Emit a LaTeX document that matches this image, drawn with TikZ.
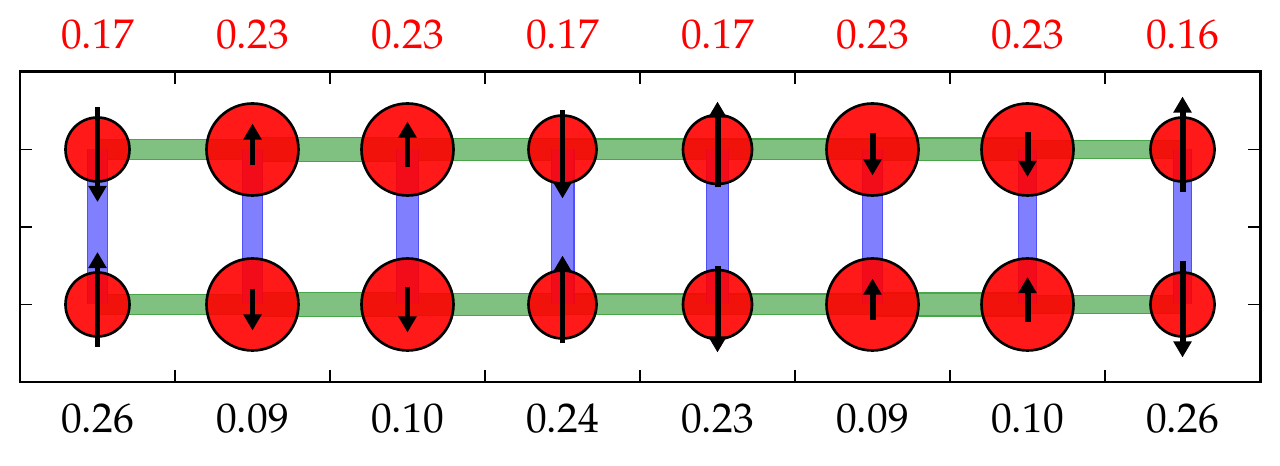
\documentclass[tikz,border=0pt]{standalone}
\usepackage[T1]{fontenc}
\usepackage{mathpazo}
\usetikzlibrary{arrows.meta}
\usetikzlibrary{positioning}

\definecolor{leggreen}{RGB}{128,192,128}
\definecolor{leggreenedge}{RGB}{72,166,72}
\definecolor{rungblue}{RGB}{128,128,255}
\definecolor{rungblueedge}{RGB}{80,80,246}

\tikzset{
  frame/.style={line width=0.85pt},
  tickmark/.style={line width=0.35pt},
  legbond/.style={draw=leggreenedge,double=leggreen,line width=0.35pt},
  rungbond/.style={draw=rungblueedge,double=rungblue,line width=0.35pt},
  site/.style={circle,draw=black,fill=red,fill opacity=0.9,line width=0.75pt,inner sep=0pt},
  spin/.style={line width=1.7pt,-{Triangle[length=4.6pt,width=5pt]}},
  density/.style={font=\fontsize{11.8}{14}\selectfont,text=red,anchor=base},
  moment/.style={font=\fontsize{11.8}{14}\selectfont,anchor=base},
}

\begin{document}
\begin{tikzpicture}[x=1.55cm,y=1.55cm]
\useasboundingbox (-0.129,-0.5355) rectangle (8.129,2.4645);

% lattice sites
\coordinate (t1) at (0.5,1.5); \coordinate (b1) at (0.5,0.5);
\coordinate (t2) at (1.5,1.5); \coordinate (b2) at (1.5,0.5);
\coordinate (t3) at (2.5,1.5); \coordinate (b3) at (2.5,0.5);
\coordinate (t4) at (3.5,1.5); \coordinate (b4) at (3.5,0.5);
\coordinate (t5) at (4.5,1.5); \coordinate (b5) at (4.5,0.5);
\coordinate (t6) at (5.5,1.5); \coordinate (b6) at (5.5,0.5);
\coordinate (t7) at (6.5,1.5); \coordinate (b7) at (6.5,0.5);
\coordinate (t8) at (7.5,1.5); \coordinate (b8) at (7.5,0.5);

% legs
\draw[legbond,double distance=5.28pt] (t1) -- (t2);
\draw[legbond,double distance=6.41pt] (t2) -- (t3);
\draw[legbond,double distance=5.84pt] (t3) -- (t4);
\draw[legbond,double distance=5.56pt] (t4) -- (t5);
\draw[legbond,double distance=5.56pt] (t5) -- (t6);
\draw[legbond,double distance=6.13pt] (t6) -- (t7);
\draw[legbond,double distance=4.71pt] (t7) -- (t8);
\draw[legbond,double distance=5.28pt] (b1) -- (b2);
\draw[legbond,double distance=6.41pt] (b2) -- (b3);
\draw[legbond,double distance=5.84pt] (b3) -- (b4);
\draw[legbond,double distance=5.56pt] (b4) -- (b5);
\draw[legbond,double distance=5.56pt] (b5) -- (b6);
\draw[legbond,double distance=6.13pt] (b6) -- (b7);
\draw[legbond,double distance=4.71pt] (b7) -- (b8);

% rungs
\draw[rungbond,double distance=5.28pt] (t1) -- (b1);
\draw[rungbond,double distance=5.28pt] (t2) -- (b2);
\draw[rungbond,double distance=5.84pt] (t3) -- (b3);
\draw[rungbond,double distance=6.13pt] (t4) -- (b4);
\draw[rungbond,double distance=5.84pt] (t5) -- (b5);
\draw[rungbond,double distance=5.28pt] (t6) -- (b6);
\draw[rungbond,double distance=4.71pt] (t7) -- (b7);
\draw[rungbond,double distance=4.71pt] (t8) -- (b8);

% charges
\node[site,minimum size=0.64cm] (st1) at (t1) {};
\node[site,minimum size=0.92cm] (st2) at (t2) {};
\node[site,minimum size=0.92cm] (st3) at (t3) {};
\node[site,minimum size=0.68cm] (st4) at (t4) {};
\node[site,minimum size=0.69cm] (st5) at (t5) {};
\node[site,minimum size=0.92cm] (st6) at (t6) {};
\node[site,minimum size=0.92cm] (st7) at (t7) {};
\node[site,minimum size=0.64cm] (st8) at (t8) {};
\node[site,minimum size=0.64cm] (sb1) at (b1) {};
\node[site,minimum size=0.92cm] (sb2) at (b2) {};
\node[site,minimum size=0.92cm] (sb3) at (b3) {};
\node[site,minimum size=0.68cm] (sb4) at (b4) {};
\node[site,minimum size=0.69cm] (sb5) at (b5) {};
\node[site,minimum size=0.92cm] (sb6) at (b6) {};
\node[site,minimum size=0.92cm] (sb7) at (b7) {};
\node[site,minimum size=0.64cm] (sb8) at (b8) {};

% spins
\draw[spin] (0.5,1.7742) -- (0.5,1.1613);
\draw[spin] (0.5,0.2258) -- (0.5,0.8387);
\draw[spin] (1.5,1.3968) -- (1.5,1.6677);
\draw[spin] (1.5,0.6032) -- (1.5,0.3323);
\draw[spin] (2.5,1.3839) -- (2.5,1.6806);
\draw[spin] (2.5,0.6161) -- (2.5,0.3194);
\draw[spin] (3.5,1.7516) -- (3.5,1.1839);
\draw[spin] (3.5,0.2484) -- (3.5,0.8161);
\draw[spin] (4.5,1.2548) -- (4.5,1.8097);
\draw[spin] (4.5,0.7452) -- (4.5,0.1903);
\draw[spin] (5.5,1.6032) -- (5.5,1.3323);
\draw[spin] (5.5,0.3968) -- (5.5,0.6677);
\draw[spin] (6.5,1.6129) -- (6.5,1.3226);
\draw[spin] (6.5,0.3871) -- (6.5,0.6774);
\draw[spin] (7.5,1.2226) -- (7.5,1.8419);
\draw[spin] (7.5,0.7774) -- (7.5,0.1581);

% axes box
\draw[frame] (0,0) rectangle (8,2);
\foreach \k in {1,...,7} {
  \draw[tickmark] (\k,0) -- (\k,0.0774);
  \draw[tickmark] (\k,2) -- (\k,1.9226);
}
\foreach \h in {0.5,1,1.5} {
  \draw[tickmark] (0,\h) -- (0.0774,\h);
  \draw[tickmark] (8,\h) -- (7.9226,\h);
}

% column labels
\node[density] (n1) at (0.5,2.152) {0.17};
\node[density] (n2) at (1.5,2.152) {0.23};
\node[density] (n3) at (2.5,2.152) {0.23};
\node[density] (n4) at (3.5,2.152) {0.17};
\node[density] (n5) at (4.5,2.152) {0.17};
\node[density] (n6) at (5.5,2.152) {0.23};
\node[density] (n7) at (6.5,2.152) {0.23};
\node[density] (n8) at (7.5,2.152) {0.16};
\node[moment] (m1) at (0.5,-0.329) {0.26};
\node[moment] (m2) at (1.5,-0.329) {0.09};
\node[moment] (m3) at (2.5,-0.329) {0.10};
\node[moment] (m4) at (3.5,-0.329) {0.24};
\node[moment] (m5) at (4.5,-0.329) {0.23};
\node[moment] (m6) at (5.5,-0.329) {0.09};
\node[moment] (m7) at (6.5,-0.329) {0.10};
\node[moment] (m8) at (7.5,-0.329) {0.26};

\end{tikzpicture}
\end{document}
